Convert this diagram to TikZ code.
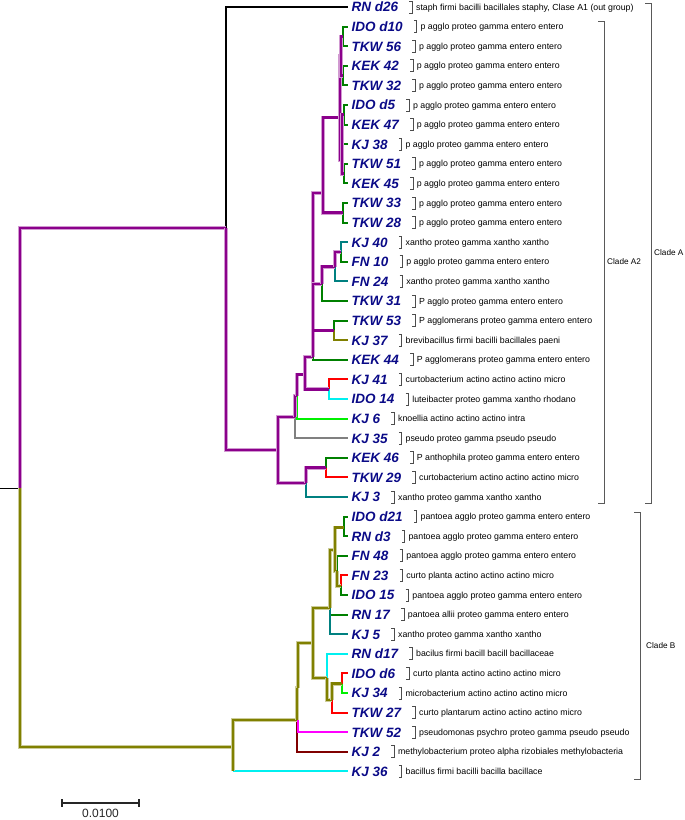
\documentclass[tikz,border=0pt]{standalone}
\usepackage{fontspec}
\setmainfont{Liberation Sans}
\definecolor{cpur}{RGB}{139,0,139}
\definecolor{coli}{RGB}{128,128,0}
\definecolor{cgrn}{RGB}{0,128,0}
\definecolor{cteal}{RGB}{0,128,128}
\definecolor{cred}{RGB}{255,0,0}
\definecolor{ccyan}{RGB}{0,240,240}
\definecolor{clime}{RGB}{0,240,0}
\definecolor{cgray}{RGB}{128,128,128}
\definecolor{cmag}{RGB}{255,0,255}
\definecolor{cmar}{RGB}{128,0,0}
\definecolor{cnavy}{RGB}{10,10,135}
\begin{document}
\begin{tikzpicture}[x=1pt,y=-1pt,
  brn/.style={line width=2pt, draw=#1},
  brk/.style={line width=2.8pt, draw=#1, preaction={draw=#1!40, line width=3.8pt}},
  leaflab/.style={anchor=west, inner sep=0pt, font=\fontsize{13.5}{14}\selectfont\bfseries\itshape, text=cnavy, text height=9.7pt, text depth=0pt},
  desclab/.style={anchor=west, inner sep=0pt, font=\fontsize{8.8}{10}\selectfont, text height=6.3pt, text depth=0pt},
  lbrk/.style={draw=black!70, line width=0.9pt},
  cbrk/.style={draw=black!65, line width=0.9pt},
  cladelab/.style={anchor=west, inner sep=0pt, font=\fontsize{8.2}{10}\selectfont, text height=5.9pt, text depth=0pt}
]
\useasboundingbox (0,0) rectangle (685,820);

% leaves, labels, descriptions
\foreach \i/\lab/\desc in {
0/RN d26/{staph firmi bacilli bacillales staphy, Clase A1 (out group)},
1/IDO d10/p agglo proteo gamma entero entero,
2/TKW 56/p agglo proteo gamma entero entero,
3/KEK 42/p agglo proteo gamma entero entero,
4/TKW 32/p agglo proteo gamma entero entero,
5/IDO d5/p agglo proteo gamma entero entero,
6/KEK 47/p agglo proteo gamma entero entero,
7/KJ 38/p agglo proteo gamma entero entero,
8/TKW 51/p agglo proteo gamma entero entero,
9/KEK 45/p agglo proteo gamma entero entero,
10/TKW 33/p agglo proteo gamma entero entero,
11/TKW 28/p agglo proteo gamma entero entero,
12/KJ 40/xantho proteo gamma xantho xantho,
13/FN 10/p agglo proteo gamma entero entero,
14/FN 24/xantho proteo gamma xantho xantho,
15/TKW 31/P agglo proteo gamma entero entero,
16/TKW 53/P agglomerans proteo gamma entero entero,
17/KJ 37/brevibacillus firmi bacilli bacillales paeni,
18/KEK 44/P agglomerans proteo gamma entero entero,
19/KJ 41/curtobacterium actino actino actino micro,
20/IDO 14/luteibacter proteo gamma xantho rhodano,
21/KJ 6/knoellia actino actino actino intra,
22/KJ 35/pseudo proteo gamma pseudo pseudo,
23/KEK 46/P anthophila proteo gamma entero entero,
24/TKW 29/curtobacterium actino actino actino micro,
25/KJ 3/xantho proteo gamma xantho xantho,
26/IDO d21/pantoea agglo proteo gamma entero entero,
27/RN d3/pantoea agglo proteo gamma entero entero,
28/FN 48/pantoea agglo proteo gamma entero entero,
29/FN 23/curto planta actino actino actino micro,
30/IDO 15/pantoea agglo proteo gamma entero entero,
31/RN 17/pantoea allii proteo gamma entero entero,
32/KJ 5/xantho proteo gamma xantho xantho,
33/RN d17/bacilus firmi bacill bacill bacillaceae,
34/IDO d6/curto planta actino actino actino micro,
35/KJ 34/microbacterium actino actino actino micro,
36/TKW 27/curto plantarum actino actino actino micro,
37/TKW 52/pseudomonas psychro proteo gamma pseudo pseudo,
38/KJ 2/methylobacterium proteo alpha rizobiales methylobacteria,
39/KJ 36/bacillus firmi bacilli bacilla bacillace}{
  \coordinate (l\i) at (348,{7+19.6*\i});
  \node[leaflab] (n\i) at (351.5,{7+19.6*\i}) {\lab};
  \draw[lbrk] ([shift={(11,-6)}]n\i.east) -- ++(3,0) -- ++(0,12) -- ++(-3,0);
  \node[desclab] (d\i) at ([xshift=17.5]n\i.east) {\desc};
}

% internal nodes
\coordinate (R0) at (0,488);
\coordinate (R) at (20,488);
\coordinate (CA) at (226,228);
\coordinate (CB) at (233,747);
\coordinate (A2) at (278,450);
\coordinate (L) at (306,483);
\coordinate (M) at (326,467.6);
\coordinate (U) at (295,417);
\coordinate (U1) at (297,396);
\coordinate (Z6) at (305,374.5);
\coordinate (W) at (329,389.2);
\coordinate (Z3) at (313,357);
\coordinate (Z4) at (334,330.4);
\coordinate (Z2) at (322,284);
\coordinate (Z1) at (335,266.7);
\coordinate (Q1) at (341,252);
\coordinate (H2) at (323,193);
\coordinate (H1) at (340,117.5);
\coordinate (G1) at (341,56);
\coordinate (g1a) at (343,36.4);
\coordinate (g1b) at (343,75.6);
\coordinate (G2) at (342,160);
\coordinate (g2a) at (344,114.8);
\coordinate (g2c) at (343.5,173.6);
\coordinate (G3) at (343,212.8);
% clade B
\coordinate (CB1) at (297,720);
\coordinate (CB1a) at (298,688);
\coordinate (CB2) at (313,643);
\coordinate (B17) at (327,678);
\coordinate (B27) at (332,700);
\coordinate (Bd6) at (342,683.6);
\coordinate (CB3) at (330,608);
\coordinate (CB4) at (335,550);
\coordinate (B21) at (344,527.4);
\coordinate (B48) at (337,571);
\coordinate (B23) at (341,586);

% thin branches (leaf edges)
\draw[line width=1pt, black] (R0) -- (R);
\draw[brn=cteal] (L) |- (l25);
\draw[brn=cgrn] (M) |- (l23);
\draw[brn=cred] (M) |- (l24);
\draw[brn=cgray] (U) |- (l22);
\draw[brn=clime] (U1) |- (l21);
\draw[brn=cred] (W) |- (l19);
\draw[brn=ccyan] (W) |- (l20);
\draw[brn=cgrn] (Z3) |- (l18);
\draw[brn=cgrn] (Z4) |- (l16);
\draw[brn=coli] (Z4) |- (l17);
\draw[brn=cgrn] (Z2) |- (l15);
\draw[brn=cteal] (Z1) |- (l14);
\draw[brn=cteal] (Q1) |- (l12);
\draw[brn=cgrn] (Q1) |- (l13);
\draw[brn=cgrn] (G3) |- (l10);
\draw[brn=cgrn] (G3) |- (l11);
\draw[brn=cgrn] (g1a) |- (l1);
\draw[brn=cgrn] (g1a) |- (l2);
\draw[brn=cgrn] (g1b) |- (l3);
\draw[brn=cgrn] (g1b) |- (l4);
\draw[brn=cgrn] (g2a) |- (l5);
\draw[brn=cgrn] (g2a) |- (l6);
\draw[brn=cgrn] (G2) |- (l7);
\draw[brn=cgrn] (g2c) |- (l8);
\draw[brn=cgrn] (g2c) |- (l9);
% clade B leaf edges
\draw[brn=ccyan] (CB |- l39) -- (l39);
\draw[brn=cmar] (CB1) |- (l38);
\draw[brn=cmag] (CB1a) |- (l37);
\draw[brn=ccyan] (B17) |- (l33);
\draw[brn=cred] (B27) |- (l36);
\draw[brn=cred] (Bd6) |- (l34);
\draw[brn=clime] (Bd6) |- (l35);
\draw[brn=cgrn] (CB3) |- (l31);
\draw[brn=cteal] (CB3) |- (l32);
\draw[brn=cgrn] (B21) |- (l26);
\draw[brn=cgrn] (B21) |- (l27);
\draw[brn=cgrn] (B48) |- (l28);
\draw[brn=cred] (B23) |- (l29);
\draw[brn=cgrn] (B23) |- (l30);

% thick branches
\draw[line width=2.5pt, black] (CA) |- (l0);
\draw[brk=cpur] (R) |- (CA);
\draw[brk=coli] (R) |- (CB);
\draw[brk=cpur] (CA) |- (A2);
\draw[brk=cpur] (A2) |- (U);
\draw[brk=cpur] (A2) |- (L);
\draw[brk=cpur] (L) |- (M);
\draw[brk=cpur] (U) |- (U1);
\draw[brk=cpur] (U1) |- (Z6);
\draw[brk=cpur] (Z6) |- (Z3);
\draw[brk=cpur] (Z6) |- (W);
\draw[brk=cpur] (Z3) |- (H2);
\draw[brk=cpur] (Z3) |- (Z2);
\draw[brk=cpur] (Z3) |- (Z4);
\draw[brk=cpur] (Z2) |- (Z1);
\draw[brk=cpur] (Z1) |- (Q1);
\draw[brk=cpur] (H2) |- (H1);
\draw[brk=cpur] (H2) |- (G3);
\draw[brk=cpur] (H1) |- (G1);
\draw[brk=cpur] (H1) |- (G2);
\draw[brk=cpur] (G1) |- (g1a);
\draw[brk=cpur] (G1) |- (g1b);
\draw[brk=cpur] (G2) |- (g2a);
\draw[brk=cpur] (G2) |- (g2c);
% clade B thick
\draw[brk=coli] (CB) |- (CB1);
\draw[brk=coli] (CB) -- (CB |- l39);
\draw[brk=coli] (CB1) |- (CB1a);
\draw[brk=coli] (CB1a) |- (CB2);
\draw[brk=coli] (CB2) |- (CB3);
\draw[brk=coli] (CB2) |- (B17);
\draw[brk=coli] (B17) |- (B27);
\draw[brk=coli] (B27) |- (Bd6);
\draw[brk=coli] (CB3) |- (CB4);
\draw[brk=coli] (CB4) |- (B21);
\draw[brk=coli] (CB4) |- (B48);
\draw[brk=coli] (B48) |- (B23);

% clade brackets
\coordinate (cAt) at (651,3); \coordinate (cAb) at (651,503);
\draw[cbrk] ([xshift=-6]cAt) -- (cAt) -- (cAb) -- ([xshift=-6]cAb);
\node[cladelab] (cA) at (654,253) {Clade A};
\coordinate (cA2t) at (604,21); \coordinate (cA2b) at (604,503);
\draw[cbrk] ([xshift=-6]cA2t) -- (cA2t) -- (cA2b) -- ([xshift=-6]cA2b);
\node[cladelab] (cA2) at (607,262) {Clade A2};
\coordinate (cBt) at (640,512); \coordinate (cBb) at (640,779);
\draw[cbrk] ([xshift=-6]cBt) -- (cBt) -- (cBb) -- ([xshift=-6]cBb);
\node[cladelab] (cB) at (646,645.5) {Clade B};

% scale bar
\coordinate (sb1) at (62,803);
\coordinate (sb2) at (139,803);
\draw[line width=1.6pt, black!85] (sb1) -- (sb2);
\draw[line width=1.6pt, black!85] ([yshift=4]sb1) -- ([yshift=-4]sb1);
\draw[line width=1.6pt, black!85] ([yshift=4]sb2) -- ([yshift=-4]sb2);
\node[inner sep=0pt, font=\fontsize{12}{14}\selectfont, text=black!85] (sbl) at (100.5,813) {0.0100};
\end{tikzpicture}
\end{document}
